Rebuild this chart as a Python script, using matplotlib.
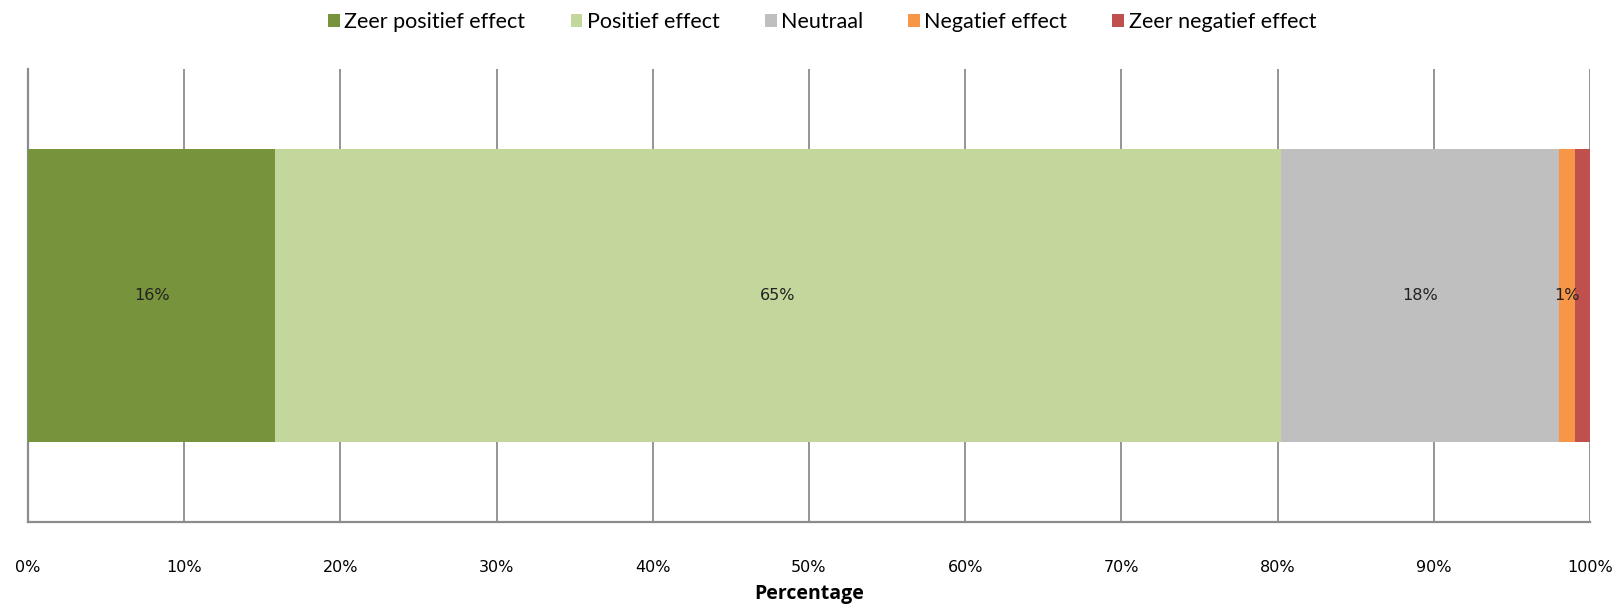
import numpy as np
import matplotlib
matplotlib.use("Agg")
import matplotlib.pyplot as plt
from matplotlib.patches import Patch

# --- data (counts as shown in labels, drawn as 100% stacked) ---
categories = ["Zeer positief effect", "Positief effect", "Neutraal",
              "Negatief effect", "Zeer negatief effect"]
values = [16, 65, 18, 1, 1]
labels = ["16%", "65%", "18%", "1%", ""]
colors = ["#77933c", "#c3d69b", "#bfbfbf", "#f79646", "#c0504d"]
xticks = [0, 10, 20, 30, 40, 50, 60, 70, 80, 90, 100]

fig = plt.figure(figsize=(16.12, 6.05), dpi=100)
ax = fig.add_axes([28 / 1612, 1 - 522 / 605, (1590 - 28) / 1612, (522 - 69) / 605])

shares = np.array(values, dtype=float) / sum(values) * 100
left = 0.0
for share, lab, col in zip(shares, labels, colors):
    ax.barh(0, share, left=left, height=0.647, color=col, edgecolor="none", zorder=3)
    if lab:
        ax.text(left + share / 2, 0, lab, ha="center", va="center",
                fontsize=11.5, color="#222222", family="DejaVu Sans", zorder=4)
    left += share

ax.set_xlim(0, 100)
ax.set_ylim(-0.5, 0.5)
ax.set_yticks([])
ax.set_xticks(xticks)
ax.set_xticklabels([f"{t}%" for t in xticks], fontsize=11.5, family="DejaVu Sans")
ax.tick_params(axis="x", length=0, pad=27)
ax.xaxis.grid(True, color="#8c8c8c", linewidth=1.3, zorder=0)
for s in ["top", "right"]:
    ax.spines[s].set_visible(False)
for s in ["left", "bottom"]:
    ax.spines[s].set_color("#8c8c8c")
    ax.spines[s].set_linewidth(1.6)

ax.set_xlabel("Percentage", fontsize=14, fontweight="bold", family="Open Sans", labelpad=7)

handles = [Patch(facecolor=c, edgecolor="none") for c in colors]
fig.legend(handles, categories, loc="center", bbox_to_anchor=(0.51, 0.963), ncol=5,
           frameon=False, prop={"family": "Lato", "size": 15.5},
           handlelength=0.55, handleheight=0.55, handletextpad=0.2, columnspacing=2.1)

fig.savefig("out.png", dpi=100)
